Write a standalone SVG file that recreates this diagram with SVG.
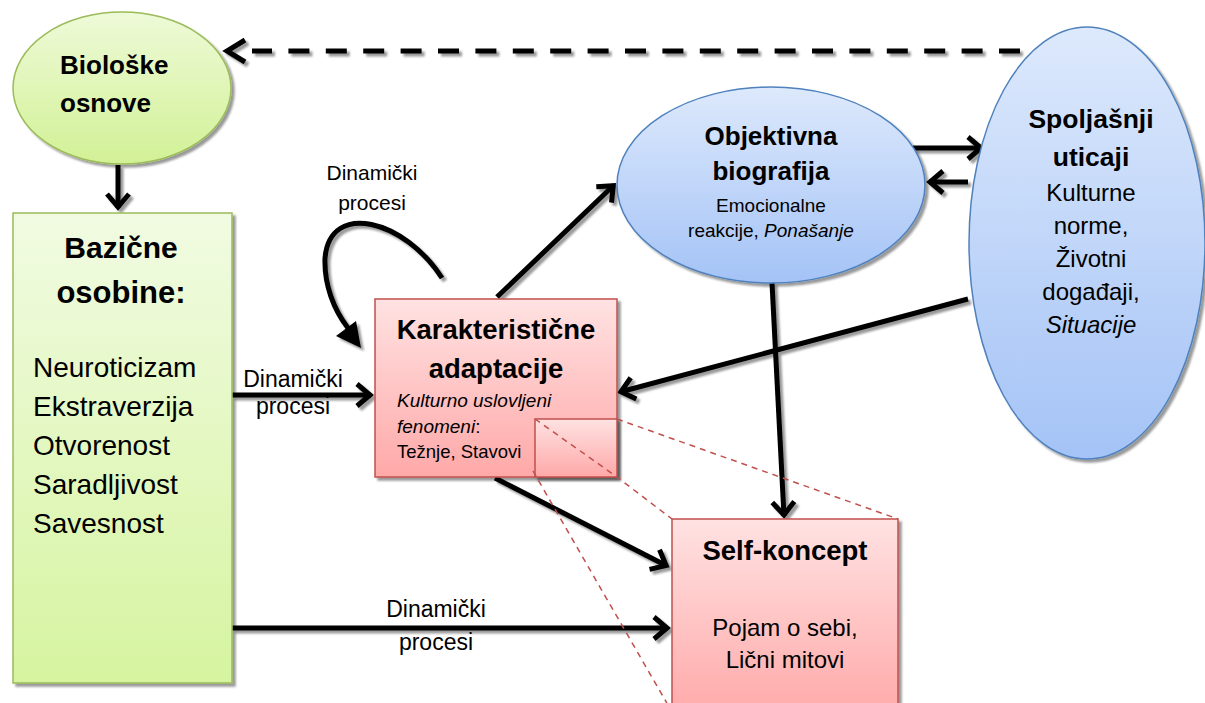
<svg xmlns="http://www.w3.org/2000/svg" width="1205" height="703" viewBox="0 0 1205 703">
<style>
text{font-family:"Liberation Sans",Arial,sans-serif;fill:#000}
.b{font-weight:bold}
.c{text-anchor:middle}
.i{font-style:italic}
.conn{fill:none;stroke:#000;stroke-width:5}
.red{fill:none;stroke:#c0504d;stroke-width:1.5;stroke-dasharray:6 5}
</style>
<defs>
<linearGradient id="gG" x1="0" y1="0" x2="0" y2="1"><stop offset="0" stop-color="#f1fbe2"/><stop offset="1" stop-color="#d6f4a0"/></linearGradient>
<linearGradient id="gGe" x1="0" y1="0" x2="0" y2="1"><stop offset="0" stop-color="#eefad8"/><stop offset="1" stop-color="#d2f196"/></linearGradient>
<linearGradient id="gR" x1="0" y1="0" x2="0" y2="1"><stop offset="0" stop-color="#ffe2e2"/><stop offset="1" stop-color="#ffa8a8"/></linearGradient>
<linearGradient id="gB" x1="0" y1="0" x2="0" y2="1"><stop offset="0" stop-color="#dde9fc"/><stop offset="1" stop-color="#a4c3f6"/></linearGradient>
<filter id="sh" x="-10%" y="-10%" width="130%" height="130%"><feDropShadow dx="3" dy="3" stdDeviation="1" flood-color="#000" flood-opacity="0.4"/></filter>
<marker id="ah" markerUnits="userSpaceOnUse" markerWidth="40" markerHeight="40" viewBox="-20 -20 40 40" refX="0" refY="0" orient="auto" overflow="visible"><path d="M-14,-11 L-1,0 L-14,11" fill="none" stroke="#000" stroke-width="5"/></marker>
</defs>

<g id="connectors" filter="url(#sh)">
<path d="M1020,51 L252,51" class="conn" stroke-width="6" stroke-dasharray="21 16.4"/>
<path d="M245,40 L227,51 L245,62" class="conn" stroke-width="6"/>
<path d="M118,165 L118,208" class="conn" marker-end="url(#ah)"/>
<path d="M232,395 L371,395" class="conn" marker-end="url(#ah)"/>
<path d="M232,628 L668,628" class="conn" marker-end="url(#ah)"/>
<path d="M442,278 C405,220 330,200 325,258 C324,285 334,310 348,328" class="conn"/>
<polygon points="361,348 336,336 356,321" fill="#000"/>
<path d="M497,297 L614,185" class="conn" marker-end="url(#ah)"/>
<path d="M913,148 L982,148" class="conn" marker-end="url(#ah)"/>
<path d="M968,182 L929,182" class="conn" marker-end="url(#ah)"/>
<path d="M968,299 L620,392" class="conn" marker-end="url(#ah)"/>
<path d="M772,283 L784,516" class="conn" marker-end="url(#ah)"/>
<path d="M495,478 L667,566" class="conn" marker-end="url(#ah)"/>
</g>

<g id="biologske">
<ellipse cx="122" cy="88" rx="109" ry="76" fill="url(#gGe)" stroke="#9bbb59" stroke-width="1.5" filter="url(#sh)"/>
<text x="60" y="74" class="b" font-size="26">Biološke</text>
<text x="60" y="112" class="b" font-size="26">osnove</text>
</g>

<g id="bazicne">
<rect x="13" y="213" width="219" height="470" fill="url(#gG)" stroke="#9bbb59" stroke-width="1.5" filter="url(#sh)"/>
<text x="121" y="258" class="b c" font-size="30">Bazične</text>
<text x="121" y="303" class="b c" font-size="31">osobine:</text>
<text x="33" y="377" font-size="28">Neuroticizam</text>
<text x="33" y="416" font-size="28">Ekstraverzija</text>
<text x="33" y="455" font-size="28">Otvorenost</text>
<text x="33" y="494" font-size="28">Saradljivost</text>
<text x="33" y="533" font-size="28">Savesnost</text>
</g>

<g id="labels">
<text x="293" y="387" class="c" font-size="23">Dinamički</text>
<text x="293" y="414" class="c" font-size="23">procesi</text>
<text x="372" y="180" class="c" font-size="21">Dinamički</text>
<text x="372" y="210" class="c" font-size="21">procesi</text>
<text x="436" y="617" class="c" font-size="23">Dinamički</text>
<text x="436" y="650" class="c" font-size="23">procesi</text>
</g>

<g id="objektivna">
<ellipse cx="771" cy="185" rx="154" ry="98" fill="url(#gB)" stroke="#4f81bd" stroke-width="1.5" filter="url(#sh)"/>
<text x="771" y="145" class="b c" font-size="26">Objektivna</text>
<text x="771" y="180" class="b c" font-size="26">biografija</text>
<text x="771" y="212" class="c" font-size="19">Emocionalne</text>
<text x="771" y="237" class="c" font-size="19">reakcije, <tspan class="i">Ponašanje</tspan></text>
</g>

<g id="spoljasnji">
<ellipse cx="1087" cy="243" rx="118" ry="216" fill="url(#gB)" stroke="#4f81bd" stroke-width="1.5" filter="url(#sh)"/>
<text x="1091" y="128" class="b c" font-size="26.5">Spoljašnji</text>
<text x="1091" y="166" class="b c" font-size="26.5">uticaji</text>
<text x="1091" y="201" class="c" font-size="24">Kulturne</text>
<text x="1091" y="234" class="c" font-size="24">norme,</text>
<text x="1091" y="267" class="c" font-size="24">Životni</text>
<text x="1091" y="300" class="c" font-size="24">događaji,</text>
<text x="1091" y="333" class="c i" font-size="24">Situacije</text>
</g>

<g id="karakteristicne">
<rect x="375" y="299" width="242" height="178" fill="url(#gR)" stroke="#c0504d" stroke-width="1.5" filter="url(#sh)"/>
<text x="496" y="339" class="b c" font-size="27.5">Karakteristične</text>
<text x="496" y="378" class="b c" font-size="27.5">adaptacije</text>
<text x="397" y="407" class="i" font-size="19">Kulturno uslovljeni</text>
<text x="397" y="433" font-size="19"><tspan class="i">fenomeni</tspan>:</text>
<text x="397" y="458" font-size="18.5">Težnje, Stavovi</text>
<rect x="535" y="419" width="82" height="58" fill="url(#gR)" stroke="#c0504d" stroke-width="1.5" filter="url(#sh)"/>
</g>

<g id="self">
<rect x="672" y="519" width="226" height="200" fill="url(#gR)" stroke="#c0504d" stroke-width="1.5" filter="url(#sh)"/>
<text x="785" y="560" class="b c" font-size="27.5">Self-koncept</text>
<text x="785" y="636" class="c" font-size="24">Pojam o sebi,</text>
<text x="785" y="668" class="c" font-size="24">Lični mitovi</text>
</g>

<g id="zoom-lines">
<path d="M535,419 L617,477 L672,519" class="red"/>
<path d="M617,419 L898,519" class="red"/>
<path d="M533,471 L672,712" class="red"/>
</g>
</svg>
